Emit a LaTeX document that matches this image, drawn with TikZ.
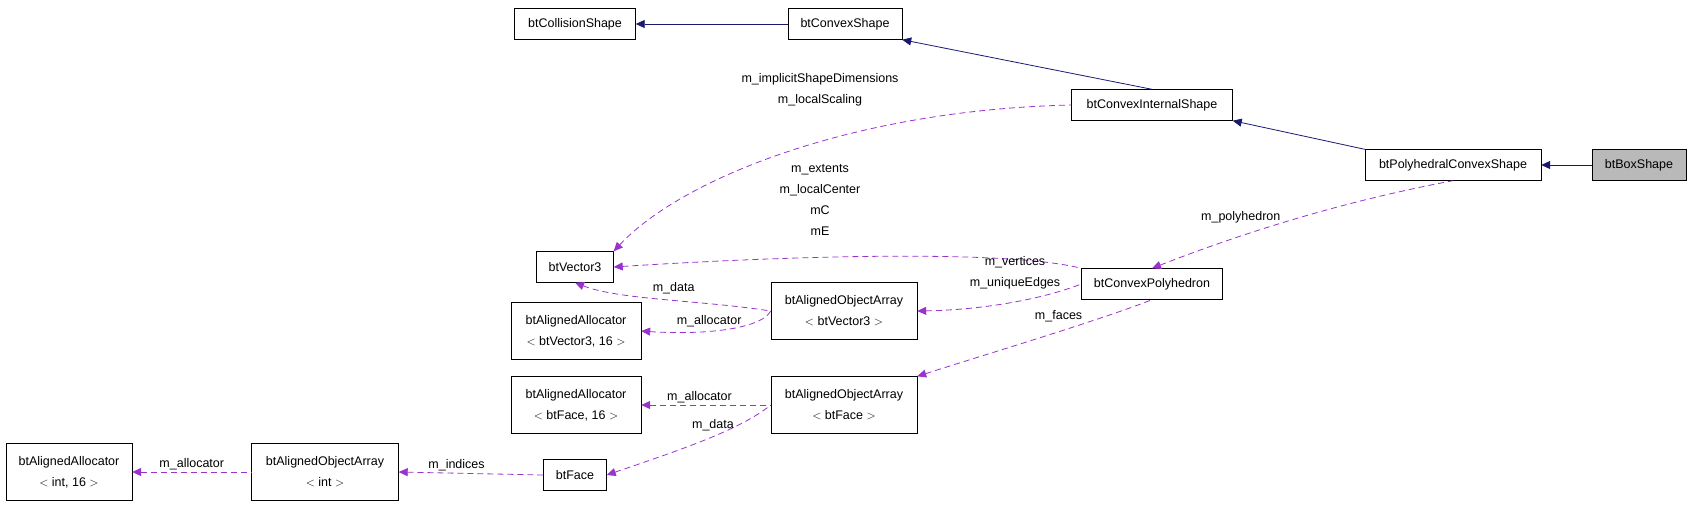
\documentclass[tikz,border=0pt]{standalone}
\usepackage{fontspec}
\setmainfont{Liberation Sans}
\usetikzlibrary{arrows.meta}
\definecolor{inhBlue}{HTML}{191970}
\definecolor{usePurple}{HTML}{9A32CD}
\begin{document}
\begin{tikzpicture}[
    x=1pt, y=-1pt,
    every node/.style={align=center, font=\fontsize{12.5}{21}\selectfont},
    cls/.style={rectangle, draw, fill=white, minimum height=31pt, inner sep=2pt},
    cls2/.style={rectangle, draw, fill=white, minimum height=57pt, inner sep=2pt},
    top/.style={cls, fill=gray!55},
    inherit/.style={draw=inhBlue, thick, {Triangle[length=9pt,width=8pt]}-},
    uses/.style={draw=usePurple, thick, dashed, dash pattern=on 6pt off 4pt, {Triangle[length=9pt,width=8pt]}-},
    lbl/.style={font=\fontsize{12.5}{21}\selectfont, inner sep=1pt}
]
\useasboundingbox (0,0) rectangle (1691,507);

% Nodes
\node[cls, minimum width=121pt] (collision) at (575,24) {btCollisionShape};
\node[cls, minimum width=114pt] (convex) at (845,24) {btConvexShape};
\node[cls, minimum width=161pt] (internal) at (1152,105) {btConvexInternalShape};
\node[cls, minimum width=176pt] (polyhedral) at (1453,165) {btPolyhedralConvexShape};
\node[top, minimum width=94pt] (box) at (1639,165) {btBoxShape};
\node[cls, minimum width=77pt] (vector) at (575,267) {btVector3};
\node[cls, minimum width=141pt] (polyhedron) at (1152,284) {btConvexPolyhedron};
\node[cls2, minimum width=146pt] (arrV) at (844,311) {btAlignedObjectArray\\$<$ btVector3 $>$};
\node[cls2, minimum width=130pt] (allocV) at (576,331) {btAlignedAllocator\\$<$ btVector3, 16 $>$};
\node[cls2, minimum width=146pt] (arrF) at (844,405) {btAlignedObjectArray\\$<$ btFace $>$};
\node[cls2, minimum width=130pt] (allocF) at (576,405) {btAlignedAllocator\\$<$ btFace, 16 $>$};
\node[cls, minimum width=63pt] (face) at (575,475) {btFace};
\node[cls2, minimum width=147pt] (arrI) at (325,472) {btAlignedObjectArray\\$<$ int $>$};
\node[cls2, minimum width=126pt] (allocI) at (69,472) {btAlignedAllocator\\$<$ int, 16 $>$};

% Inheritance
\draw[inherit] (collision) -- (convex);
\draw[inherit] (convex.south east) -- (internal.north);
\draw[inherit] (internal.south east) -- (polyhedral.north west);
\draw[inherit] (polyhedral) -- (box);

% Members
\draw[uses] (vector.north east) .. controls (680,180) and (850,110) .. (internal.west);
\node[lbl] (lblInternal) at (820,90) {m\_implicitShapeDimensions\\m\_localScaling};
\draw[uses] (vector.east) .. controls (800,255) and (1010,250) .. (polyhedron.north west);
\node[lbl] (lblPolyhedron) at (820,200) {m\_extents\\m\_localCenter\\mC\\mE};
\draw[uses] (vector.south) .. controls (620,300) and (700,300) .. (arrV.west)
    node[lbl, pos=0.55, above=5pt] {m\_data};
\draw[uses] (arrV.east) .. controls (980,310) and (1040,300) .. (polyhedron.west);
\node[lbl] (lblVertices) at (1015,273) {m\_vertices\\m\_uniqueEdges};
\draw[uses] (polyhedron.north) .. controls (1250,230) and (1350,200) .. (polyhedral.south)
    node[lbl, pos=0.3, above=12pt] {m\_polyhedron};
\draw[uses] (arrF.north east) .. controls (1000,350) and (1100,320) .. (polyhedron.south)
    node[lbl, pos=0.55, above=8pt] {m\_faces};
\draw[uses] (allocV.east) .. controls (700,335) and (760,330) .. (arrV.west)
    node[lbl, pos=0.4, above=3pt] {m\_allocator};
\draw[uses] (allocF.east) -- (arrF.west)
    node[lbl, pos=0.45, above=1pt] {m\_allocator};
\draw[uses] (face.east) .. controls (680,450) and (740,430) .. (arrF.west)
    node[lbl, pos=0.55, above=4pt] {m\_data};
\draw[uses] (arrI.east) -- (face.west)
    node[lbl, pos=0.4, above=1pt] {m\_indices};
\draw[uses] (allocI.east) -- (arrI.west)
    node[lbl, pos=0.5, above=1pt] {m\_allocator};
\end{tikzpicture}
\end{document}
